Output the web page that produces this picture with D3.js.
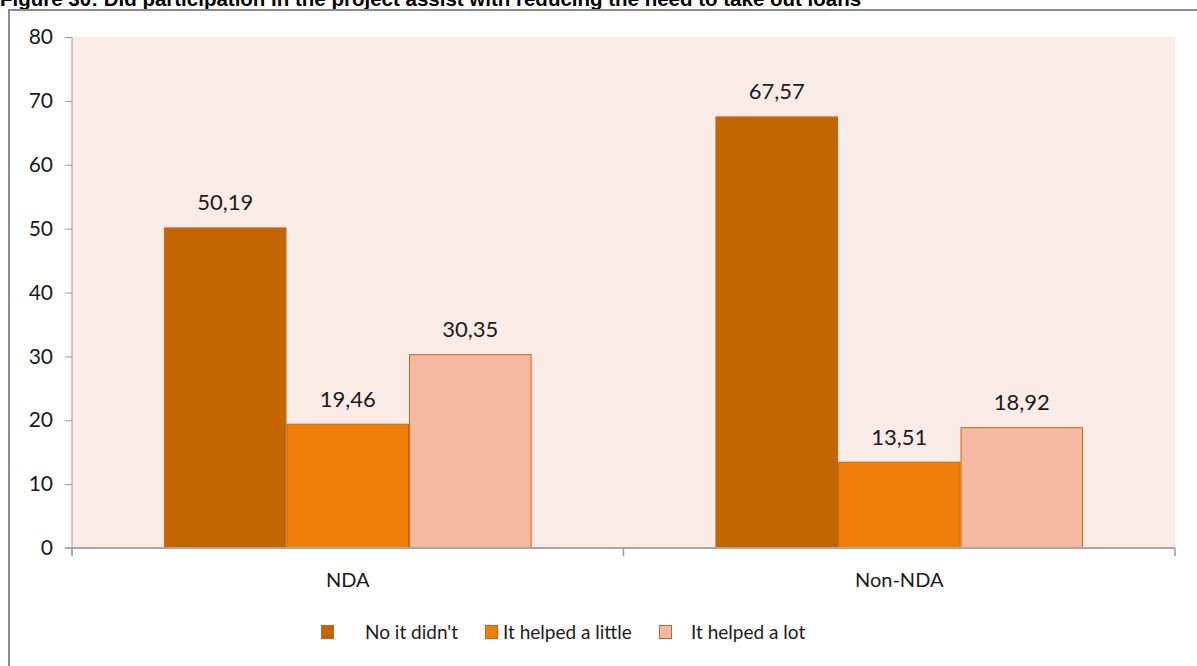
<!DOCTYPE html>
<meta charset="utf-8">
<script src="https://cdn.jsdelivr.net/npm/d3@7"></script>
<html>
<head>
<style>
  body { margin: 0; background: #fff; }
  svg { display: block; }
</style>
</head>
<body>
<div id="chart"></div>
</body>
</html>

<script>
// data
var groups = ["NDA", "Non-NDA"];
var series = ["No it didn't", "It helped a little", "It helped a lot"];
var noItDidnt = [50.19, 67.57];
var helpedLittle = [19.46, 13.51];
var helpedLot = [30.35, 18.92];
var yTicks = [0, 10, 20, 30, 40, 50, 60, 70, 80];
var colors = ["#c46504", "#f07f09", "#f4b9a0"];

var title = "Figure 30: Did participation in the project assist with reducing the need to take out loans";

var W = 1197, H = 666;
var plot = {left: 72, right: 1175, top: 37, bottom: 548};
var font = "Lato, 'Open Sans', sans-serif";

var svg = d3.select("#chart").append("svg")
  .attr("width", W).attr("height", H);

// title, clipped at top like the original
svg.append("text")
  .attr("x", 0).attr("y", 6)
  .style("font", "bold 20.5px 'Liberation Sans', Arial, sans-serif")
  .attr("fill", "#000")
  .text(title);

// outer frame
svg.append("rect")
  .attr("x", 9).attr("y", 10)
  .attr("width", W + 20).attr("height", H + 20)
  .attr("fill", "none")
  .attr("stroke", "#8c8c8c")
  .attr("stroke-width", 2);

// plot background
svg.append("rect")
  .attr("x", plot.left).attr("y", plot.top)
  .attr("width", plot.right - plot.left).attr("height", plot.bottom - plot.top)
  .attr("fill", "#fbebe7");

var x = d3.scaleBand().domain(groups).range([plot.left, plot.right]);
var bw = x.bandwidth() / 4.5;
var xs = d3.scaleBand().domain(series).range([0.75 * bw, 3.75 * bw]);
var y = d3.scaleLinear().domain([0, 80]).range([plot.bottom, plot.top]);

var values = [noItDidnt, helpedLittle, helpedLot];
var rows = [];
groups.forEach(function(g, gi) {
  series.forEach(function(s, si) {
    rows.push({g: g, s: s, si: si, v: values[si][gi]});
  });
});

svg.selectAll("rect.bar").data(rows).enter().append("rect")
  .attr("class", "bar")
  .attr("x", function(d) { return x(d.g) + xs(d.s) + 0.5; })
  .attr("y", function(d) { return y(d.v) + 0.5; })
  .attr("width", xs.bandwidth() - 1)
  .attr("height", function(d) { return y(0) - y(d.v) - 0.5; })
  .attr("fill", function(d) { return colors[d.si]; })
  .attr("stroke", "#c7661c")
  .attr("stroke-width", 1);

// value labels
svg.selectAll("text.val").data(rows).enter().append("text")
  .attr("class", "val")
  .attr("x", function(d) { return x(d.g) + xs(d.s) + xs.bandwidth() / 2; })
  .attr("y", function(d) { return y(d.v) - 17; })
  .attr("text-anchor", "middle")
  .style("font", "22px " + font)
  .attr("fill", "#1a1a1a")
  .text(function(d) { return d.v.toFixed(2).replace(".", ","); });

// y axis
var yAxis = svg.append("g")
  .attr("transform", "translate(" + plot.left + ",0)")
  .call(d3.axisLeft(y).tickValues(yTicks).tickSize(7).tickPadding(12).tickFormat(d3.format("d")));
yAxis.select(".domain").attr("stroke", "#9a9a9a").attr("d", "M0," + plot.top + "V" + (plot.bottom + 7));
yAxis.selectAll(".tick line").attr("stroke", "#9a9a9a");
yAxis.selectAll(".tick text").style("font", "21px " + font).attr("fill", "#1a1a1a");

// x axis
svg.append("line")
  .attr("x1", plot.left - 7).attr("x2", plot.right)
  .attr("y1", plot.bottom).attr("y2", plot.bottom)
  .attr("stroke", "#a8a8a8").attr("stroke-width", 2);
var xTickPos = [plot.left].concat(groups.map(function(g) { return x(g) + x.bandwidth(); }));
svg.selectAll("line.xt").data(xTickPos).enter().append("line")
  .attr("class", "xt")
  .attr("x1", function(d) { return d; }).attr("x2", function(d) { return d; })
  .attr("y1", plot.bottom).attr("y2", plot.bottom + 8)
  .attr("stroke", "#9a9a9a").attr("stroke-width", 1.5);
svg.selectAll("text.cat").data(groups).enter().append("text")
  .attr("class", "cat")
  .attr("x", function(d) { return x(d) + x.bandwidth() / 2; })
  .attr("y", 587)
  .attr("text-anchor", "middle")
  .style("font", "20px " + font)
  .attr("fill", "#1a1a1a")
  .text(function(d) { return d; });

// legend
var legendSq = [321, 485, 659];
var legendTx = [365, 503, 691];
var lg = svg.selectAll("g.lg").data(series).enter().append("g").attr("class", "lg");
lg.append("rect")
  .attr("x", function(d, i) { return legendSq[i] + 0.5; })
  .attr("y", 625.5)
  .attr("width", 12).attr("height", 13)
  .attr("fill", function(d, i) { return colors[i]; })
  .attr("stroke", "#c7661c");
lg.append("text")
  .attr("x", function(d, i) { return legendTx[i]; })
  .attr("y", 639)
  .style("font", "19px " + font)
  .attr("fill", "#1a1a1a")
  .text(function(d) { return d; });
</script>
